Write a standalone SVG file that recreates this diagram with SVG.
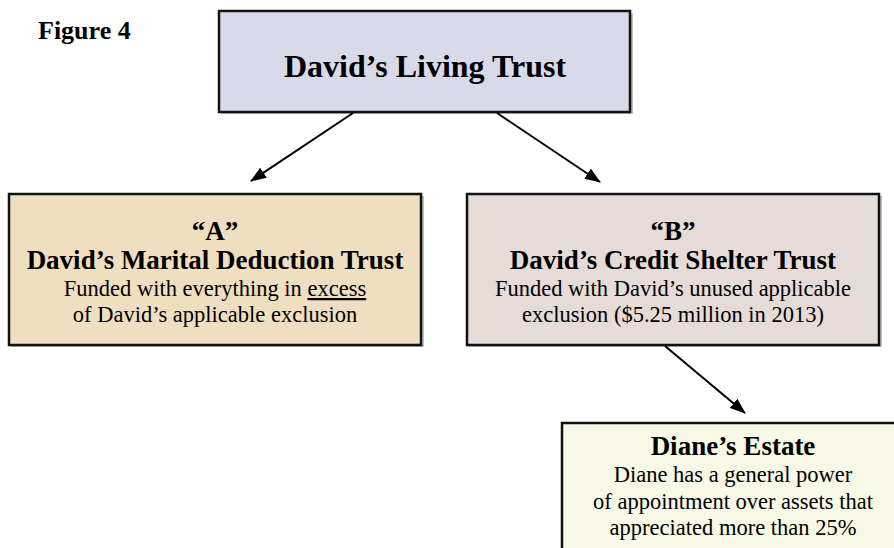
<svg xmlns="http://www.w3.org/2000/svg" width="894" height="548" viewBox="0 0 894 548">
<defs>
<marker id="ah" markerWidth="16" markerHeight="12" refX="15" refY="6" orient="auto" markerUnits="userSpaceOnUse" viewBox="0 0 16 12">
<path d="M0,0 L16,6 L0,12 z" fill="#000"/>
</marker>
<style>
.box{stroke:#111;stroke-width:2.5}
.sh{fill:#bbb}
.t{font-family:"Liberation Serif","Times New Roman",serif;fill:#000;text-anchor:middle}
.b{font-weight:bold}
.h{font-size:27px}
.p{font-size:22.5px}
.conn{stroke:#000;stroke-width:2;fill:none}
</style>
</defs>
<rect width="894" height="548" fill="#fff"/>
<text class="t b" x="38" y="39" font-size="26" style="text-anchor:start">Figure 4</text>
<g id="living">
<rect class="sh" x="221" y="13" width="412" height="101"/>
<rect class="box" x="219" y="11" width="411" height="101" fill="#d9dae9"/>
<text class="t b" x="425" y="77" font-size="32">David’s Living Trust</text>
</g>
<g id="trustA">
<rect class="sh" x="11" y="196" width="413" height="151"/>
<rect class="box" x="9" y="194" width="412" height="151" fill="#efdfc0"/>
<text class="t b h" x="215" y="240">“A”</text>
<text class="t b h" x="215" y="269">David’s Marital Deduction Trust</text>
<text class="t p" x="215" y="296">Funded with everything in <tspan text-decoration="underline">excess</tspan></text>
<text class="t p" x="215" y="322">of David’s applicable exclusion</text>
</g>
<g id="trustB">
<rect class="sh" x="469" y="196" width="413" height="151"/>
<rect class="box" x="467" y="194" width="412" height="151" fill="#e6dcd7"/>
<text class="t b h" x="673" y="240">“B”</text>
<text class="t b h" x="673" y="269">David’s Credit Shelter Trust</text>
<text class="t p" x="673" y="296">Funded with David’s unused applicable</text>
<text class="t p" x="673" y="322">exclusion ($5.25 million in 2013)</text>
</g>
<g id="diane">
<rect class="sh" x="564" y="425" width="345" height="130"/>
<rect class="box" x="562" y="423" width="345" height="130" fill="#f8f8e7"/>
<text class="t b h" x="733" y="455">Diane’s Estate</text>
<text class="t p" x="733" y="482">Diane has a general power</text>
<text class="t p" x="733" y="509">of appointment over assets that</text>
<text class="t p" x="733" y="535">appreciated more than 25%</text>
</g>
<g id="connectors">
<line class="conn" x1="353" y1="113" x2="251" y2="181" marker-end="url(#ah)"/>
<line class="conn" x1="497" y1="113" x2="600" y2="182" marker-end="url(#ah)"/>
<line class="conn" x1="665" y1="346" x2="745" y2="413" marker-end="url(#ah)"/>
</g>
</svg>
